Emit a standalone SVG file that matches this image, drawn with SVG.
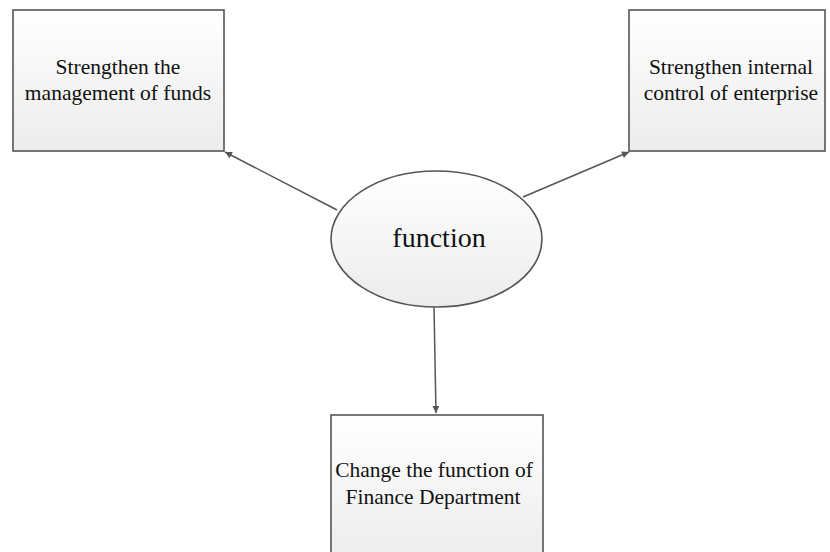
<svg xmlns="http://www.w3.org/2000/svg" width="830" height="552" viewBox="0 0 830 552">
<defs>
<linearGradient id="g" x1="0" y1="0" x2="0" y2="1">
<stop offset="0" stop-color="#ffffff"/>
<stop offset="1" stop-color="#ececec"/>
</linearGradient>
<marker id="arr" viewBox="0 0 10 10" refX="10" refY="5" markerWidth="9" markerHeight="7" markerUnits="userSpaceOnUse" orient="auto">
<path d="M0,0 L10,5 L0,10 z" fill="#555"/>
</marker>
<style>
.box{fill:url(#g);stroke:#555;stroke-width:1.6}
.t{font-family:"Liberation Serif","Times New Roman",serif;font-size:21.5px;fill:#111;text-anchor:middle}
.c{fill:none;stroke:#555;stroke-width:1.5;marker-end:url(#arr)}
</style>
</defs>
<rect width="830" height="552" fill="#fff"/>
<g id="connectors">
<line class="c" x1="337" y1="210" x2="225" y2="152"/>
<line class="c" x1="523" y1="197" x2="629" y2="152"/>
<path class="c" d="M434,307 L435,360 L436,413"/>
</g>
<g id="node-funds">
<rect class="box" x="13" y="10" width="211" height="141"/>
<text class="t" x="118" y="74">Strengthen the</text>
<text class="t" x="118" y="100">management of funds</text>
</g>
<g id="node-control">
<rect class="box" x="629" y="10" width="196" height="141"/>
<text class="t" x="731" y="74">Strengthen internal</text>
<text class="t" x="731" y="100">control of enterprise</text>
</g>
<g id="node-function">
<ellipse class="box" cx="436.5" cy="239" rx="105.5" ry="68"/>
<text class="t" x="439" y="247" style="font-size:28px">function</text>
</g>
<g id="node-finance">
<rect class="box" x="331" y="415" width="212" height="150"/>
<text class="t" x="434" y="477">Change the function of</text>
<text class="t" x="433" y="504">Finance Department</text>
</g>
</svg>
